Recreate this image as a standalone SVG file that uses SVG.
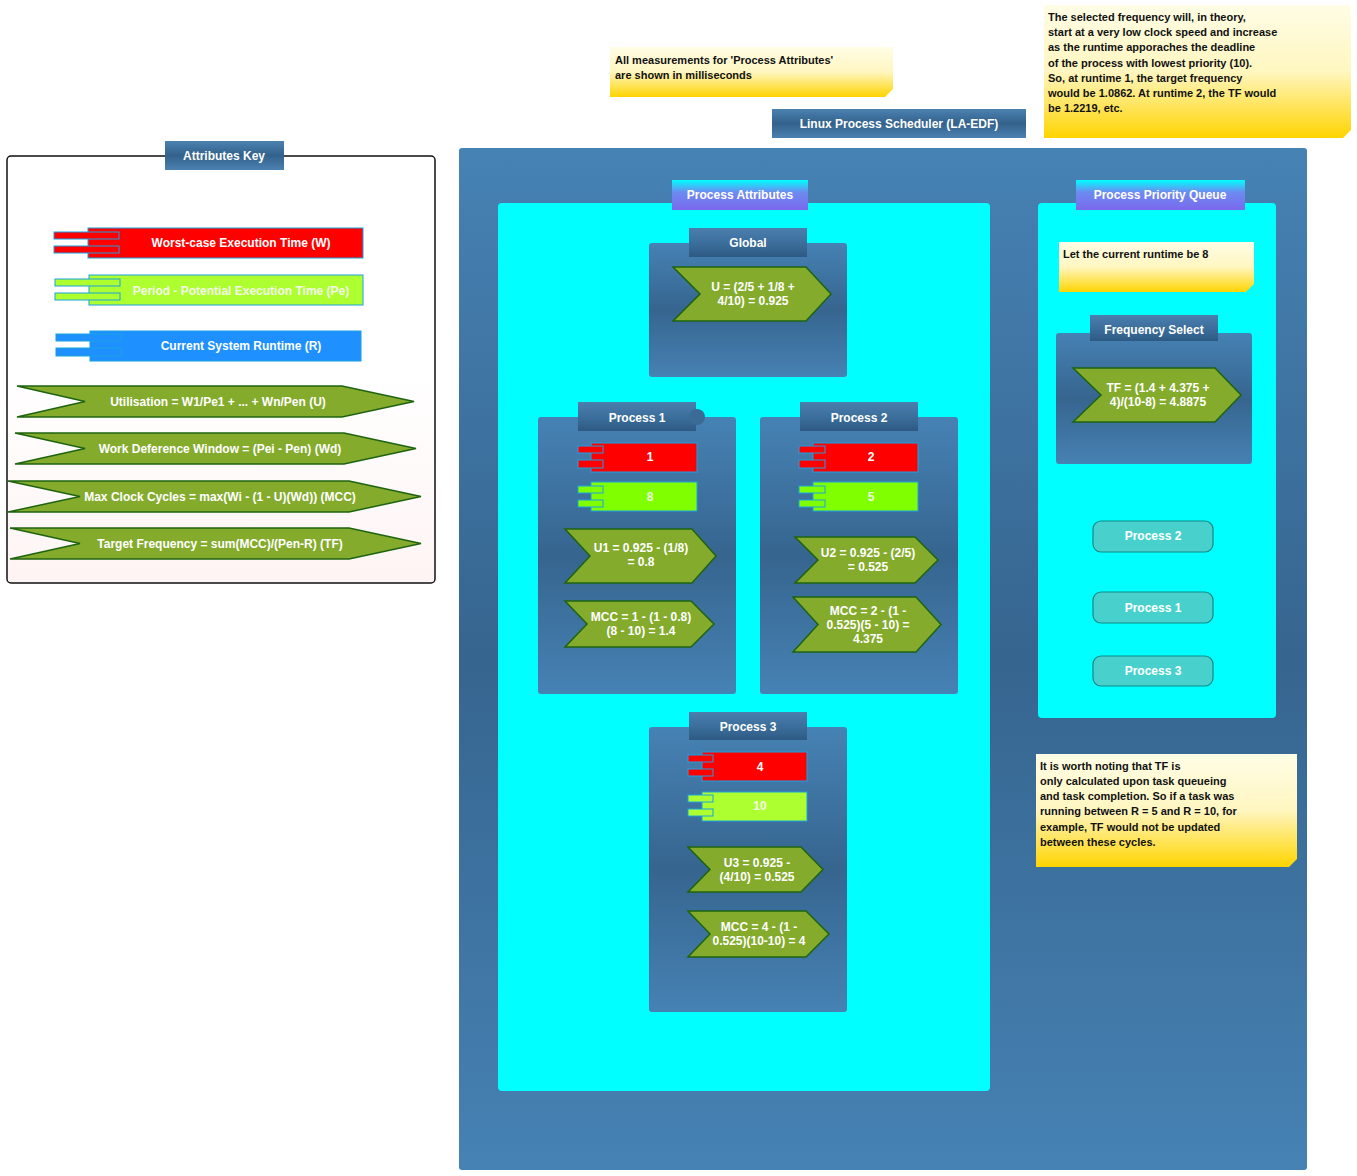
<svg xmlns="http://www.w3.org/2000/svg" width="1357" height="1176" viewBox="0 0 1357 1176">
<defs>
<linearGradient id="gBlue" x1="0" y1="0" x2="0" y2="1">
<stop offset="0" stop-color="#4682b4"/>
<stop offset="0.5" stop-color="#36658f"/>
<stop offset="1" stop-color="#4682b4"/>
</linearGradient>
<linearGradient id="gTab" x1="0" y1="0" x2="0" y2="1">
<stop offset="0" stop-color="#4a7fae"/>
<stop offset="0.55" stop-color="#3b6d9a"/>
<stop offset="1" stop-color="#2d5a84"/>
</linearGradient>
<linearGradient id="gTitle" x1="0" y1="0" x2="0" y2="1">
<stop offset="0" stop-color="#4b81b1"/>
<stop offset="0.5" stop-color="#33628c"/>
<stop offset="1" stop-color="#4b81b1"/>
</linearGradient>
<linearGradient id="gPurple" x1="0" y1="0" x2="0" y2="1">
<stop offset="0" stop-color="#00ffff"/>
<stop offset="0.4" stop-color="#6c8cf0"/>
<stop offset="1" stop-color="#7b68ee"/>
</linearGradient>
<linearGradient id="gNote" x1="0" y1="0" x2="0" y2="1">
<stop offset="0" stop-color="#fffde6"/>
<stop offset="0.5" stop-color="#fff6c0"/>
<stop offset="1" stop-color="#ffd400"/>
</linearGradient>
<linearGradient id="gKey" x1="0" y1="0" x2="0" y2="1">
<stop offset="0" stop-color="#ffffff"/>
<stop offset="0.5" stop-color="#ffffff"/>
<stop offset="1" stop-color="#fff4f4"/>
</linearGradient>
</defs>
<style>
.t{font-family:"Liberation Sans",Arial,sans-serif;font-weight:bold;font-size:12px;fill:#ffffff;text-anchor:middle}
.n{font-family:"Liberation Sans",Arial,sans-serif;font-weight:bold;font-size:11px;fill:#111111}
.box{fill:url(#gBlue)}
.tab{fill:url(#gTab)}
.cyan{fill:#00ffff}
.chev{fill:#84ab2c;stroke:#1e6410;stroke-width:1.5}
.red{fill:#ff0000;stroke:#1ba1e2;stroke-width:1}
.lime{fill:#80ff00;stroke:#1ba1e2;stroke-width:1}
.gy{fill:#adff2f;stroke:#1ba1e2;stroke-width:1}
.blu{fill:#1e90ff;stroke:#1ba1e2;stroke-width:1}
.note{fill:url(#gNote)}
.q{fill:#48d1cc;stroke:#0e8a88;stroke-width:1.2}
</style>

<g id="notes">
<g id="note-measure">
<path class="note" d="M610,47 H893 V89 L885,97 H610 Z"/>
<text class="n" x="615" y="64">All measurements for 'Process Attributes'</text>
<text class="n" x="615" y="79">are shown in milliseconds</text>
</g>
<g id="note-frequency">
<path class="note" d="M1044,5 H1351 V130 L1343,138 H1044 Z"/>
<text class="n" x="1048" y="21">The selected frequency will, in theory,</text>
<text class="n" x="1048" y="36">start at a very low clock speed and increase</text>
<text class="n" x="1048" y="51">as the runtime apporaches the deadline</text>
<text class="n" x="1048" y="67">of the process with lowest priority (10).</text>
<text class="n" x="1048" y="82">So, at runtime 1, the target frequency</text>
<text class="n" x="1048" y="97">would be 1.0862. At runtime 2, the TF would</text>
<text class="n" x="1048" y="112">be 1.2219, etc.</text>
</g>
</g>

<g id="title">
<rect x="772" y="109" width="254" height="29" fill="url(#gTitle)"/>
<text class="t" x="899" y="128">Linux Process Scheduler (LA-EDF)</text>
</g>

<g id="attributes-key">
<rect x="7" y="156" width="428" height="427" rx="4" fill="url(#gKey)" stroke="#111111" stroke-width="1.5"/>
<rect x="165" y="141" width="119" height="29" fill="url(#gTitle)"/>
<text class="t" x="224" y="160">Attributes Key</text>
<g id="key-w">
<rect class="red" x="88" y="228" width="275" height="30"/>
<rect class="red" x="54" y="232" width="65" height="7"/>
<rect class="red" x="54" y="246" width="65" height="7"/>
<text class="t" x="241" y="247">Worst-case Execution Time (W)</text>
</g>
<g id="key-pe">
<rect class="gy" x="89" y="275" width="274" height="30"/>
<rect class="gy" x="55" y="279" width="65" height="7"/>
<rect class="gy" x="55" y="293" width="65" height="7"/>
<text class="t" x="241" y="295" style="fill:#f4f8ec">Period - Potential Execution Time (Pe)</text>
</g>
<g id="key-r">
<rect class="blu" x="90" y="331" width="271" height="30"/>
<rect class="blu" x="56" y="334" width="65" height="7"/>
<rect class="blu" x="56" y="348" width="65" height="8"/>
<text class="t" x="241" y="350">Current System Runtime (R)</text>
</g>
<g id="key-u">
<polygon class="chev" points="17,386 342,386 414,401.5 342,417 17,417 85,401.5"/>
<text class="t" x="218" y="406">Utilisation = W1/Pe1 + ... + Wn/Pen (U)</text>
</g>
<g id="key-wd">
<polygon class="chev" points="15,433 344,433 416,448.5 344,464 15,464 85,448.5"/>
<text class="t" x="220" y="453">Work Deference Window = (Pei - Pen) (Wd)</text>
</g>
<g id="key-mcc">
<polygon class="chev" points="8,481 349,481 421,496.5 349,512 8,512 80,496.5"/>
<text class="t" x="220" y="501">Max Clock Cycles = max(Wi - (1 - U)(Wd)) (MCC)</text>
</g>
<g id="key-tf">
<polygon class="chev" points="10,528 349,528 421,543.5 349,559 10,559 80,543.5"/>
<text class="t" x="220" y="548">Target Frequency = sum(MCC)/(Pen-R) (TF)</text>
</g>
</g>

<g id="scheduler">
<rect x="459" y="148" width="848" height="1022" rx="3" fill="url(#gBlue)"/>
</g>

<g id="process-attributes">
<rect class="cyan" x="498" y="203" width="492" height="888" rx="4"/>
<rect x="672" y="180" width="136" height="30" fill="url(#gPurple)"/>
<text class="t" x="740" y="199">Process Attributes</text>
</g>

<g id="global">
<rect class="box" x="649" y="243" width="198" height="134" rx="3"/>
<rect class="tab" x="689" y="228" width="118" height="29"/>
<text class="t" x="748" y="247">Global</text>
<polygon class="chev" points="673,267 806,267 831,294 806,321 673,321 700,294"/>
<text class="t" x="753" y="291">U = (2/5 + 1/8 +</text>
<text class="t" x="753" y="305">4/10) = 0.925</text>
</g>

<g id="process1">
<rect class="box" x="538" y="417" width="198" height="277" rx="3"/>
<rect class="tab" x="578" y="402" width="118" height="29"/>
<circle cx="697" cy="417" r="8" fill="#3a6a96"/>
<text class="t" x="637" y="422">Process 1</text>
<rect class="red" x="591" y="443" width="106" height="29"/>
<rect class="red" x="578" y="446" width="25" height="7"/>
<rect class="red" x="578" y="460" width="25" height="8"/>
<text class="t" x="650" y="461">1</text>
<rect class="lime" x="591" y="482" width="106" height="29"/>
<rect class="lime" x="578" y="486" width="25" height="7"/>
<rect class="lime" x="578" y="500" width="25" height="7"/>
<text class="t" x="650" y="501" style="fill:#eef6e0">8</text>
<polygon class="chev" points="565,529 692,529 716,556 692,583 565,583 590,556"/>
<text class="t" x="641" y="552">U1 = 0.925 - (1/8)</text>
<text class="t" x="641" y="566">= 0.8</text>
<polygon class="chev" points="565,601 691,601 714,624 691,647 565,647 587,624"/>
<text class="t" x="641" y="621">MCC = 1 - (1 - 0.8)</text>
<text class="t" x="641" y="635">(8 - 10) = 1.4</text>
</g>

<g id="process2">
<rect class="box" x="760" y="417" width="198" height="277" rx="3"/>
<rect class="tab" x="800" y="402" width="118" height="29"/>
<text class="t" x="859" y="422">Process 2</text>
<rect class="red" x="813" y="443" width="105" height="29"/>
<rect class="red" x="799" y="446" width="26" height="7"/>
<rect class="red" x="799" y="460" width="26" height="8"/>
<text class="t" x="871" y="461">2</text>
<rect class="lime" x="813" y="482" width="105" height="29"/>
<rect class="lime" x="799" y="486" width="26" height="7"/>
<rect class="lime" x="799" y="500" width="26" height="7"/>
<text class="t" x="871" y="501" style="fill:#eef6e0">5</text>
<polygon class="chev" points="795,537 915,537 938,560 915,583 795,583 818,560"/>
<text class="t" x="868" y="557">U2 = 0.925 - (2/5)</text>
<text class="t" x="868" y="571">= 0.525</text>
<polygon class="chev" points="793,597 916,597 941,624.5 916,652 793,652 818,624.5"/>
<text class="t" x="868" y="615">MCC = 2 - (1 -</text>
<text class="t" x="868" y="629">0.525)(5 - 10) =</text>
<text class="t" x="868" y="643">4.375</text>
</g>

<g id="process3">
<rect class="box" x="649" y="727" width="198" height="285" rx="3"/>
<rect class="tab" x="689" y="712" width="118" height="28"/>
<text class="t" x="748" y="731">Process 3</text>
<rect class="red" x="702" y="752" width="105" height="29"/>
<rect class="red" x="688" y="755" width="25" height="7"/>
<rect class="red" x="688" y="769" width="25" height="7"/>
<text class="t" x="760" y="771">4</text>
<rect class="gy" x="702" y="792" width="105" height="29"/>
<rect class="gy" x="688" y="795" width="25" height="7"/>
<rect class="gy" x="688" y="809" width="25" height="7"/>
<text class="t" x="760" y="810" style="fill:#f4f8ec">10</text>
<polygon class="chev" points="688,847 801,847 823,869.5 801,892 688,892 710,869.5"/>
<text class="t" x="757" y="867">U3 = 0.925 -</text>
<text class="t" x="757" y="881">(4/10) = 0.525</text>
<polygon class="chev" points="688,911 806,911 829,934 806,957 688,957 710,934"/>
<text class="t" x="759" y="931">MCC = 4 - (1 -</text>
<text class="t" x="759" y="945">0.525)(10-10) = 4</text>
</g>

<g id="priority-queue">
<rect class="cyan" x="1038" y="203" width="238" height="515" rx="4"/>
<rect x="1076" y="180" width="169" height="30" fill="url(#gPurple)"/>
<text class="t" x="1160" y="199">Process Priority Queue</text>
</g>

<g id="note-runtime">
<path class="note" d="M1059,242 H1254 V284 L1246,292 H1059 Z"/>
<text class="n" x="1063" y="258">Let the current runtime be 8</text>
</g>

<g id="frequency-select">
<rect class="box" x="1056" y="333" width="196" height="131" rx="3"/>
<rect class="tab" x="1090" y="315" width="128" height="26"/>
<text class="t" x="1154" y="334">Frequency Select</text>
<polygon class="chev" points="1073,368 1215,368 1241,395 1215,422 1073,422 1101,395"/>
<text class="t" x="1158" y="392">TF = (1.4 + 4.375 +</text>
<text class="t" x="1158" y="406">4)/(10-8) = 4.8875</text>
</g>

<g id="queue-process2">
<rect class="q" x="1093" y="521" width="120" height="31" rx="8"/>
<text class="t" x="1153" y="540">Process 2</text>
</g>
<g id="queue-process1">
<rect class="q" x="1093" y="592" width="120" height="31" rx="8"/>
<text class="t" x="1153" y="612">Process 1</text>
</g>
<g id="queue-process3">
<rect class="q" x="1093" y="656" width="120" height="30" rx="8"/>
<text class="t" x="1153" y="675">Process 3</text>
</g>

<g id="note-tf">
<path class="note" d="M1036,754 H1297 V859 L1289,867 H1036 Z"/>
<text class="n" x="1040" y="770">It is worth noting that TF is</text>
<text class="n" x="1040" y="785">only calculated upon task queueing</text>
<text class="n" x="1040" y="800">and task completion. So if a task was</text>
<text class="n" x="1040" y="815">running between R = 5 and R = 10, for</text>
<text class="n" x="1040" y="831">example, TF would not be updated</text>
<text class="n" x="1040" y="846">between these cycles.</text>
</g>

<g id="connectors"></g>
</svg>
